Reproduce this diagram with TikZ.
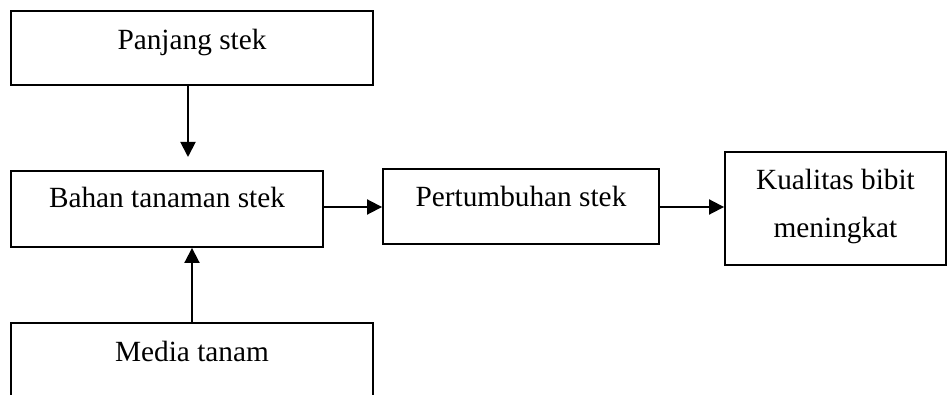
\documentclass[tikz,border=0pt]{standalone}
\usepackage{fontspec}
\setmainfont{Liberation Serif}
\usetikzlibrary{arrows.meta}
\begin{document}
\begin{tikzpicture}[x=1pt,y=-1pt,
  box/.style={draw,line width=1.9pt,inner sep=0pt},
  txt/.style={inner sep=0pt,anchor=base,font=\fontsize{29.3}{48}\selectfont},
  conn/.style={line width=1.9pt,-{Triangle[length=15pt,width=15pt]}}]
\useasboundingbox (0,0) rectangle (947,395);
\clip (0,0) rectangle (947,395);
% boxes
\node[box,minimum width=362pt,minimum height=74pt] (b1) at (192,48) {};
\node[box,minimum width=312pt,minimum height=76pt] (b2) at (167,209) {};
\node[box,minimum width=276pt,minimum height=75pt] (b3) at (521,206.5) {};
\node[box,minimum width=221pt,minimum height=113pt] (b4) at (835.5,208.5) {};
\node[box,minimum width=362pt,minimum height=80pt] (b5) at (192,363) {};
% texts
\node[txt] (t1) at (192,50) {Panjang stek};
\node[txt] (t2) at (167,208) {Bahan tanaman stek};
\node[txt] (t3) at (521,207) {Pertumbuhan stek};
\node[txt] (t4a) at (835.5,190) {Kualitas bibit};
\node[txt] (t4b) at (835.5,238) {meningkat};
\node[txt] (t5) at (192,361) {Media tanam};
% connectors
\coordinate (d1) at (188,157);
\draw[conn] (b1.south -| d1) -- (d1);
\draw[conn] (b5.north) -- (b5.north |- b2.south);
\draw[conn] (b2.east |- 0,207) -- (b3.west |- 0,207);
\draw[conn] (b3.east |- 0,207) -- (b4.west |- 0,207);
\end{tikzpicture}
\end{document}
